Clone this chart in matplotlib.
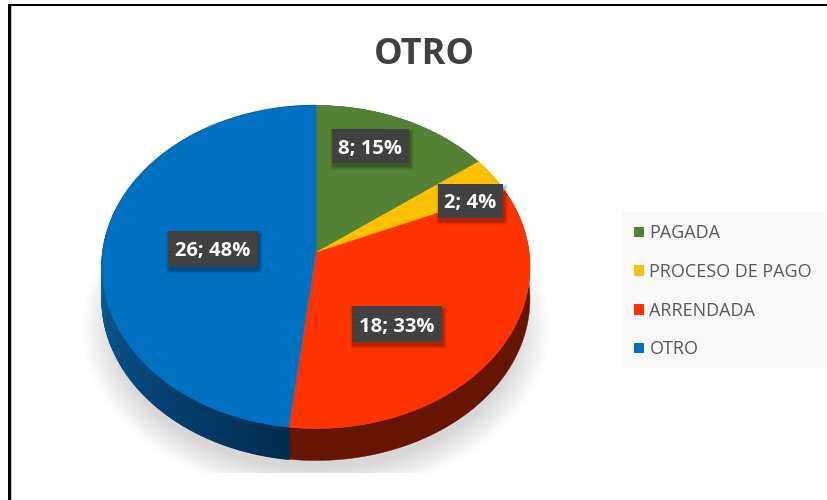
import numpy as np
import matplotlib
matplotlib.use("Agg")
import matplotlib.pyplot as plt
from matplotlib.patches import Rectangle, Ellipse, Polygon

plt.rcParams["hatch.linewidth"] = 0.5

title = "OTRO"
categories = ["PAGADA", "PROCESO DE PAGO", "ARRENDADA", "OTRO"]
values = [8, 2, 18, 26]
percents = [15, 4, 33, 48]
colors = ["#548235", "#FFC000", "#FF3300", "#0070C0"]
side_colors = ["#2f4a1e", "#7f6000", "#661500", "#0a5e9e"]
label_boxes = [(332, 129, 77, 34), (438, 184, 65, 34), (352, 306, 90, 36), (168, 231, 90, 36)]

CX, CY, D, A, C, DEPTH = 316.0, 252.5, 213.1, 160.2, 0.0898, 32.0


def project(t):
    x, y = np.sin(t), np.cos(t)
    w = 1 + C * y
    return CX + D * x / w, CY - A * y / w


fig = plt.figure(figsize=(8.28, 5.0), dpi=100, facecolor="white")
ax = fig.add_axes([0, 0, 1, 1])
ax.set_xlim(0, 828)
ax.set_ylim(500, 0)
ax.axis("off")

# frame
ax.add_patch(Rectangle((11, 6), 817, 494, fc="white", ec="none", zorder=0))
ax.add_patch(Rectangle((8, 4), 820, 2.4, fc="black", ec="none", zorder=1))
ax.add_patch(Rectangle((8, 4), 3, 496, fc="black", ec="none", zorder=1))
ax.add_patch(Rectangle((11, 6.4), 1.2, 494, fc="#c8c8c8", ec="none", zorder=1))

# soft shadow
clip = Rectangle((0, 0), 828, 473, transform=ax.transData)
N = 40
for i in range(N):
    f = i / (N - 1)
    e = Ellipse((316, 328), 2 * (234 - 34 * f), 2 * (168 - 28 * f), fc="black", ec="none",
                alpha=0.0058, zorder=2)
    ax.add_patch(e)
    e.set_clip_path(clip)

# pie
total = sum(values)
edges = 2 * np.pi * np.concatenate([[0], np.cumsum(values)]) / total

# rim
for k in range(len(values)):
    if k < 3:
        ts = np.linspace(edges[k], edges[k + 1], 200)
        xs, ys = project(ts)
        ax.fill(np.r_[xs, xs[::-1]], np.r_[ys, ys[::-1] + DEPTH], fc=side_colors[k], ec=side_colors[k],
                lw=0.3, zorder=3)
    else:
        ts = np.linspace(edges[k], edges[k + 1], 240)
        for a, b in zip(ts[:-1], ts[1:]):
            xa, ya = project(a)
            xb, yb = project(b)
            f = np.clip((0.5 * (a + b) - edges[3]) / (1.5 * np.pi - edges[3]), 0, 1)
            c0 = np.array(matplotlib.colors.to_rgb("#002c50"))
            c1 = np.array(matplotlib.colors.to_rgb(side_colors[3]))
            col = c0 + (c1 - c0) * f
            ax.add_patch(Polygon([(xa, ya), (xb, yb), (xb, yb + DEPTH), (xa, ya + DEPTH)],
                                 fc=col, ec=col, lw=1.0, zorder=3))

# top face
for k in range(len(values)):
    ts = np.linspace(edges[k], edges[k + 1], 200)
    xs, ys = project(ts)
    ax.fill(np.r_[CX, xs], np.r_[CY, ys], fc=colors[k], ec=colors[k], lw=0.3, zorder=4)

# data labels
for v, p, (bx, by, bw, bh) in zip(values, percents, label_boxes):
    for g, al in zip((7, 5, 3, 1), (0.05, 0.07, 0.09, 0.12)):
        ax.add_patch(Rectangle((bx + 2 - g / 2, by + 3 - g / 2), bw + g, bh + g, fc="black", ec="none",
                               alpha=al, zorder=5))
    ax.add_patch(Rectangle((bx, by), bw, bh, fc="#404040", ec="#4a4a4a", lw=0, hatch="....", zorder=6))
    ax.text(bx + bw / 2, by + bh / 2, f"{v}; {p}%", color="white", fontsize=14.5, fontweight="bold",
            family="Open Sans", ha="center", va="center_baseline", zorder=7)

# title
ax.text(424, 50, title, color="#404040", fontsize=26, fontweight="bold", family="Open Sans",
        ha="center", va="center_baseline", zorder=7)

# legend
ax.add_patch(Rectangle((622, 212), 204, 156, fc="#f9f9f9", ec="none", zorder=1))
for name, col, y in zip(categories, colors, [231.5, 270, 309, 347.5]):
    ax.add_patch(Rectangle((634, y - 5), 10.5, 10.5, fc=col, ec="none", zorder=2))
    ax.text(649.5, y, name, color="#595959", fontsize=12.95, family="Open Sans",
            ha="left", va="center_baseline", zorder=3)

fig.savefig("out.png", dpi=100)
